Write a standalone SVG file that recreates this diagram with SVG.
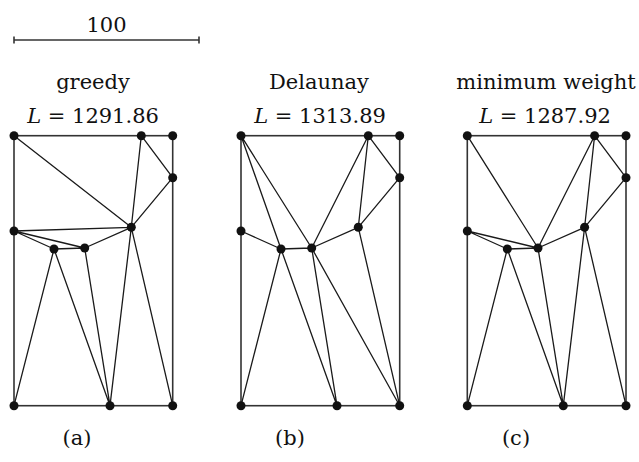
<svg xmlns="http://www.w3.org/2000/svg" width="639" height="462" viewBox="0 0 639 462">
<style>
.e{stroke:#1a1a1a;stroke-width:1.3;fill:none;stroke-linecap:round}
.b{stroke:#333;stroke-width:1.6;fill:none}
.n{fill:#111}
text{font-family:'DejaVu Serif','Liberation Serif','Times New Roman',serif;font-size:21px;fill:#111;text-anchor:middle}
</style>
<rect width="639" height="462" fill="#fff"/>
<g id="scale">
<line class="b" x1="14" y1="40" x2="199" y2="40"/>
<line class="b" x1="14" y1="36.5" x2="14" y2="43.5"/>
<line class="b" x1="199" y1="36.5" x2="199" y2="43.5"/>
<text x="106.5" y="32">100</text>
</g>
<g id="labels">
<text x="93" y="88.5">greedy</text>
<text x="93" y="122.5"><tspan font-style="italic">L</tspan> = 1291.86</text>
<text x="319" y="88.5">Delaunay</text>
<text x="320" y="122.5"><tspan font-style="italic">L</tspan> = 1313.89</text>
<text x="546" y="88.5">minimum weight</text>
<text x="545" y="122.5"><tspan font-style="italic">L</tspan> = 1287.92</text>
<text x="77" y="445">(a)</text>
<text x="290" y="445">(b)</text>
<text x="516" y="445">(c)</text>
</g>
<g id="connectors">
<g id="edges-a">
<rect class="b" x="14" y="135.7" width="158.7" height="270"/>
<path class="e" d="M14,135.7L131.3,227.3 M141.3,135.7L131.3,227.3 M141.3,135.7L172.7,177.7 M172.7,177.7L131.3,227.3 M14,231L131.3,227.3 M14,231L54,249 M14,231L84.7,248 M54,249L84.7,248 M84.7,248L131.3,227.3 M54,249L14,405.7 M54,249L110,405.7 M84.7,248L110,405.7 M131.3,227.3L110,405.7 M131.3,227.3L172.7,405.7"/>
</g>
<g id="edges-b">
<rect class="b" x="241" y="135.7" width="158.7" height="270"/>
<path class="e" d="M241,135.7L281,249 M241,135.7L311.7,248 M241,231L281,249 M281,249L311.7,248 M311.7,248L358.3,227.3 M368.3,135.7L311.7,248 M368.3,135.7L358.3,227.3 M368.3,135.7L399.7,177.7 M399.7,177.7L358.3,227.3 M281,249L241,405.7 M281,249L337,405.7 M311.7,248L337,405.7 M311.7,248L399.7,405.7 M358.3,227.3L399.7,405.7"/>
</g>
<g id="edges-c">
<rect class="b" x="467.3" y="135.7" width="158.7" height="270"/>
<path class="e" d="M467.3,135.7L538,248 M467.3,231L507.3,249 M467.3,231L538,248 M507.3,249L538,248 M538,248L584.6,227.3 M594.6,135.7L538,248 M594.6,135.7L584.6,227.3 M594.6,135.7L626,177.7 M626,177.7L584.6,227.3 M507.3,249L467.3,405.7 M507.3,249L563.3,405.7 M538,248L563.3,405.7 M584.6,227.3L563.3,405.7 M584.6,227.3L626,405.7"/>
</g>
</g>
<g id="nodes-a">
<g id="a1"><circle class="n" cx="14" cy="135.7" r="4.5"/></g>
<g id="a2"><circle class="n" cx="141.3" cy="135.7" r="4.5"/></g>
<g id="a3"><circle class="n" cx="172.7" cy="135.7" r="4.5"/></g>
<g id="a4"><circle class="n" cx="172.7" cy="177.7" r="4.5"/></g>
<g id="a5"><circle class="n" cx="131.3" cy="227.3" r="4.5"/></g>
<g id="a6"><circle class="n" cx="14" cy="231" r="4.5"/></g>
<g id="a7"><circle class="n" cx="54" cy="249" r="4.5"/></g>
<g id="a8"><circle class="n" cx="84.7" cy="248" r="4.5"/></g>
<g id="a9"><circle class="n" cx="14" cy="405.7" r="4.5"/></g>
<g id="a10"><circle class="n" cx="110" cy="405.7" r="4.5"/></g>
<g id="a11"><circle class="n" cx="172.7" cy="405.7" r="4.5"/></g>
</g>
<g id="nodes-b">
<g id="b1"><circle class="n" cx="241" cy="135.7" r="4.5"/></g>
<g id="b2"><circle class="n" cx="368.3" cy="135.7" r="4.5"/></g>
<g id="b3"><circle class="n" cx="399.7" cy="135.7" r="4.5"/></g>
<g id="b4"><circle class="n" cx="399.7" cy="177.7" r="4.5"/></g>
<g id="b5"><circle class="n" cx="358.3" cy="227.3" r="4.5"/></g>
<g id="b6"><circle class="n" cx="241" cy="231" r="4.5"/></g>
<g id="b7"><circle class="n" cx="281" cy="249" r="4.5"/></g>
<g id="b8"><circle class="n" cx="311.7" cy="248" r="4.5"/></g>
<g id="b9"><circle class="n" cx="241" cy="405.7" r="4.5"/></g>
<g id="b10"><circle class="n" cx="337" cy="405.7" r="4.5"/></g>
<g id="b11"><circle class="n" cx="399.7" cy="405.7" r="4.5"/></g>
</g>
<g id="nodes-c">
<g id="c1"><circle class="n" cx="467.3" cy="135.7" r="4.5"/></g>
<g id="c2"><circle class="n" cx="594.6" cy="135.7" r="4.5"/></g>
<g id="c3"><circle class="n" cx="626" cy="135.7" r="4.5"/></g>
<g id="c4"><circle class="n" cx="626" cy="177.7" r="4.5"/></g>
<g id="c5"><circle class="n" cx="584.6" cy="227.3" r="4.5"/></g>
<g id="c6"><circle class="n" cx="467.3" cy="231" r="4.5"/></g>
<g id="c7"><circle class="n" cx="507.3" cy="249" r="4.5"/></g>
<g id="c8"><circle class="n" cx="538" cy="248" r="4.5"/></g>
<g id="c9"><circle class="n" cx="467.3" cy="405.7" r="4.5"/></g>
<g id="c10"><circle class="n" cx="563.3" cy="405.7" r="4.5"/></g>
<g id="c11"><circle class="n" cx="626" cy="405.7" r="4.5"/></g>
</g>
</svg>
